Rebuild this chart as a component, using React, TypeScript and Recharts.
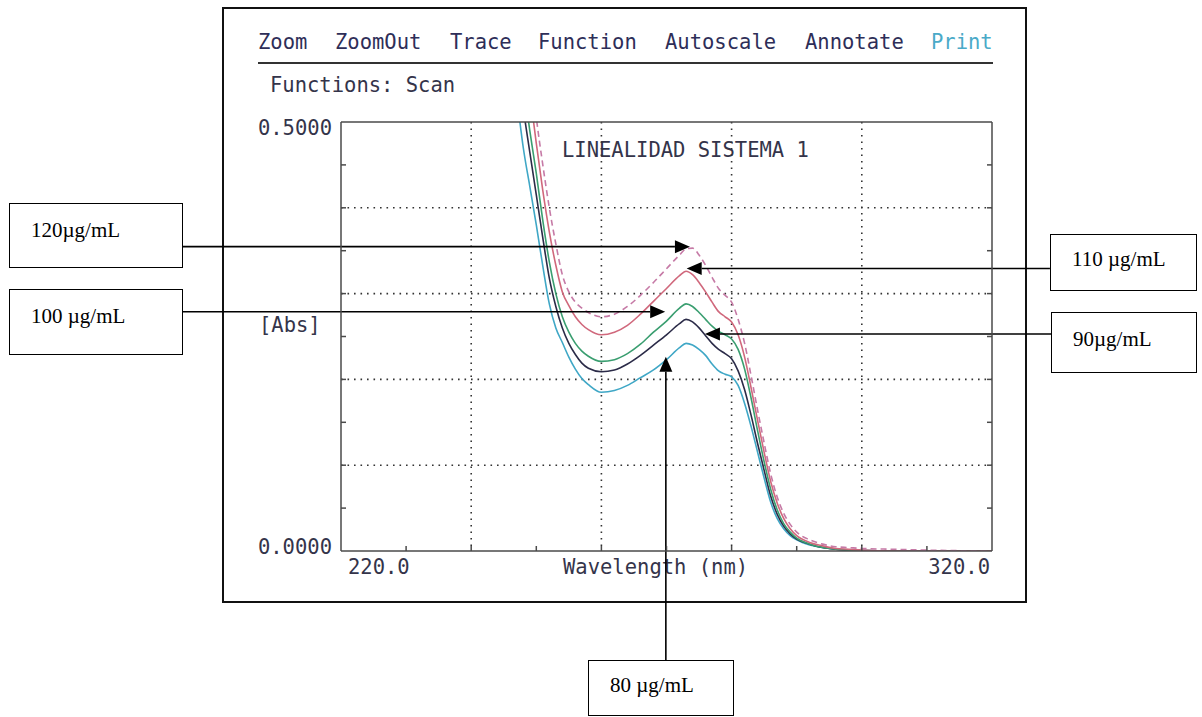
import { CartesianGrid, Line, LineChart, ReferenceLine, XAxis, YAxis } from "recharts";

// wavelength (nm) of each sample
const WAVELENGTH = [
  247, 248, 249, 250, 251, 252, 253, 254, 255, 256, 257, 258, 260, 262, 264, 266, 268, 270, 272,
  273, 274, 275, 276, 277, 278, 279, 280, 281, 282, 283, 284, 285, 286, 287, 288, 289, 290, 292,
  294, 296, 298, 300, 305, 310, 320,
];

// absorbance of each standard
const ABS_80 = [
  0.53, 0.47, 0.425, 0.38, 0.332, 0.288, 0.26, 0.243, 0.226, 0.212, 0.201, 0.194, 0.185, 0.187,
  0.193, 0.202, 0.211, 0.223, 0.237, 0.242, 0.24, 0.235, 0.228, 0.218, 0.21, 0.206, 0.203, 0.193,
  0.172, 0.145, 0.115, 0.085, 0.057, 0.038, 0.026, 0.018, 0.013, 0.007, 0.004, 0.002, 0.001,
  0.0005, 0, 0, 0,
];
const ABS_90 = [
  0.57, 0.515, 0.465, 0.415, 0.365, 0.318, 0.285, 0.26, 0.242, 0.229, 0.219, 0.213, 0.209, 0.211,
  0.218, 0.228, 0.24, 0.252, 0.265, 0.27, 0.267, 0.26, 0.251, 0.242, 0.235, 0.23, 0.224, 0.21,
  0.188, 0.158, 0.125, 0.094, 0.064, 0.043, 0.029, 0.02, 0.014, 0.008, 0.004, 0.002, 0.001,
  0.0005, 0, 0, 0,
];
const ABS_100 = [
  0.6, 0.545, 0.49, 0.44, 0.385, 0.337, 0.3, 0.273, 0.255, 0.242, 0.233, 0.227, 0.221, 0.223,
  0.23, 0.241, 0.255, 0.268, 0.283, 0.288, 0.285, 0.278, 0.27, 0.262, 0.256, 0.252, 0.247, 0.235,
  0.212, 0.178, 0.14, 0.104, 0.072, 0.048, 0.032, 0.022, 0.015, 0.008, 0.004, 0.002, 0.001,
  0.0005, 0, 0, 0,
];
const ABS_110 = [
  0.66, 0.6, 0.535, 0.475, 0.42, 0.372, 0.333, 0.302, 0.286, 0.273, 0.264, 0.258, 0.252, 0.255,
  0.263, 0.276, 0.291, 0.306, 0.321, 0.326, 0.322, 0.313, 0.302, 0.29, 0.279, 0.273, 0.267, 0.252,
  0.226, 0.19, 0.152, 0.115, 0.081, 0.056, 0.038, 0.026, 0.018, 0.01, 0.006, 0.003, 0.002, 0.001,
  0, 0, 0,
];
const ABS_120 = [
  0.71, 0.64, 0.57, 0.505, 0.45, 0.4, 0.358, 0.322, 0.302, 0.29, 0.283, 0.278, 0.273, 0.276,
  0.285, 0.298, 0.313, 0.329, 0.345, 0.352, 0.353, 0.345, 0.333, 0.319, 0.306, 0.298, 0.29, 0.27,
  0.242, 0.204, 0.164, 0.126, 0.09, 0.063, 0.044, 0.031, 0.022, 0.013, 0.008, 0.005, 0.004, 0.003,
  0.002, 0.001, 0,
];

const X_TICKS = [220, 230, 240, 250, 260, 270, 280, 290, 300, 310, 320];
const Y_TICKS = [0, 0.05, 0.1, 0.15, 0.2, 0.25, 0.3, 0.35, 0.4, 0.45, 0.5];
const X_GRID = [240, 260, 280, 300];
const Y_GRID = [0.1, 0.2, 0.3, 0.4];

const MENU = ["Zoom", "ZoomOut", "Trace", "Function", "Autoscale", "Annotate", "Print"];
const MENU_X = [258, 335, 450, 538, 665, 805, 931];

// callouts: label, tail and tip in data units
const CALLOUTS = [
  { label: "120µg/mL", from: [195.7, 0.3547], to: [273.6, 0.3547] },
  { label: "110 µg/mL", from: [328.9, 0.3293], to: [273.1, 0.3293] },
  { label: "100 µg/mL", from: [195.7, 0.2789], to: [269.8, 0.2789] },
  { label: "90µg/mL", from: [329.1, 0.2529], to: [275.9, 0.2529] },
  { label: "80 µg/mL", from: [269.9, -0.127], to: [269.9, 0.2265] },
];
const BOX_POS = [
  { left: 9, top: 203, w: 174, h: 65 },
  { left: 1050, top: 234, w: 147, h: 57 },
  { left: 9, top: 289, w: 174, h: 66 },
  { left: 1051, top: 312, w: 146, h: 61 },
  { left: 588, top: 660, w: 146, h: 56 },
];

const rows = WAVELENGTH.map((wl, i) => ({
  wl,
  a80: ABS_80[i],
  a90: ABS_90[i],
  a100: ABS_100[i],
  a110: ABS_110[i],
  a120: ABS_120[i],
}));

const MONO = "'DejaVu Sans Mono', monospace";
const AXIS = "#4a4a4a";
const INK = "#34344a";

function BottomTick({ x, y, payload }: any) {
  const v = payload.value;
  const edge = v === 220 || v === 320;
  return (
    <g>
      {!edge && <line x1={x} x2={x} y1={y} y2={y - 5} stroke={AXIS} strokeWidth={1.5} />}
      {edge && (
        <text
          x={v === 220 ? x + 7 : x - 2}
          y={y + 16}
          textAnchor={v === 220 ? "start" : "end"}
          dominantBaseline="central"
          fontFamily={MONO}
          fontSize={20.5}
          fill={INK}
        >
          {v.toFixed(1)}
        </text>
      )}
    </g>
  );
}

function TopTick({ x, y, payload }: any) {
  const v = payload.value;
  if (v === 220 || v === 320) return <g />;
  return <line x1={x} x2={x} y1={y} y2={y + 5} stroke={AXIS} strokeWidth={1.5} />;
}

function LeftTick({ x, y, payload }: any) {
  const v = payload.value;
  const edge = v === 0 || v === 0.5;
  return (
    <g>
      {!edge && <line x1={x} x2={x + 5} y1={y} y2={y} stroke={AXIS} strokeWidth={1.5} />}
      {edge && (
        <text
          x={x - 9}
          y={v === 0 ? y - 4 : y + 6}
          textAnchor="end"
          dominantBaseline="central"
          fontFamily={MONO}
          fontSize={20.5}
          fill={INK}
        >
          {v.toFixed(4)}
        </text>
      )}
    </g>
  );
}

function RightTick({ x, y, payload }: any) {
  const v = payload.value;
  if (v === 0 || v === 0.5) return <g />;
  return <line x1={x} x2={x - 5} y1={y} y2={y} stroke={AXIS} strokeWidth={1.5} />;
}

function ArrowShape({ x1, y1, x2, y2 }: any) {
  const dx = x2 - x1;
  const dy = y2 - y1;
  const len = Math.hypot(dx, dy) || 1;
  const ux = dx / len;
  const uy = dy / len;
  const head = 15;
  const half = 6.5;
  const bx = x2 - ux * head;
  const by = y2 - uy * head;
  const pts = `${x2},${y2} ${bx - uy * half},${by + ux * half} ${bx + uy * half},${by - ux * half}`;
  return (
    <g>
      <line x1={x1} y1={y1} x2={bx} y2={by} stroke="#000" strokeWidth={1.6} />
      <polygon points={pts} fill="#000" />
    </g>
  );
}

const txt = (left: number, top: number, s: string, color = INK, size = 20.5) => (
  <div
    style={{
      position: "absolute",
      left,
      top: top - 12,
      height: 24,
      lineHeight: "24px",
      fontFamily: MONO,
      fontSize: size,
      color,
      whiteSpace: "pre",
    }}
  >
    {s}
  </div>
);

export default function App() {
  return (
    <div
      style={{
        position: "fixed",
        left: 0,
        top: 0,
        width: 1202,
        height: 717,
        background: "#fff",
        overflow: "hidden",
      }}
    >
      <div
        style={{
          position: "absolute",
          left: 222,
          top: 7,
          width: 805,
          height: 596,
          border: "2px solid #111",
          boxSizing: "border-box",
        }}
      />
      {MENU.map((m, i) => (
        <div key={m}>{txt(MENU_X[i], 42, m, m === "Print" ? "#4aaac8" : "#2e2e58")}</div>
      ))}
      <div
        style={{ position: "absolute", left: 258, top: 62, width: 735, height: 2, background: "#333" }}
      />
      {txt(270, 85, "Functions: Scan")}
      {txt(562, 150, "LINEALIDAD SISTEMA 1")}
      {txt(259, 325, "[Abs]")}
      {txt(563, 567, "Wavelength (nm)")}

      <div style={{ position: "absolute", left: 0, top: 0 }}>
        <LineChart
          width={1202}
          height={717}
          data={rows}
          margin={{ top: 112, right: 200, bottom: 136, left: 261 }}
        >
          <CartesianGrid
            horizontalValues={Y_GRID}
            verticalValues={X_GRID}
            stroke="#333"
            strokeWidth={1.6}
            strokeDasharray="1.6 4.9"
          />
          <XAxis
            dataKey="wl"
            type="number"
            domain={[220, 320]}
            ticks={X_TICKS}
            interval={0}
            allowDataOverflow
            height={30}
            tickSize={0}
            tickMargin={0}
            tickLine={false}
            axisLine={{ stroke: AXIS, strokeWidth: 1.5 }}
            tick={BottomTick}
          />
          <XAxis
            xAxisId="top"
            orientation="top"
            type="number"
            domain={[220, 320]}
            ticks={X_TICKS}
            interval={0}
            allowDataOverflow
            height={10}
            tickSize={0}
            tickMargin={0}
            tickLine={false}
            axisLine={{ stroke: AXIS, strokeWidth: 1.5 }}
            tick={TopTick}
          />
          <YAxis
            type="number"
            domain={[0, 0.5]}
            ticks={Y_TICKS}
            interval={0}
            allowDataOverflow
            width={80}
            tickSize={0}
            tickMargin={0}
            tickLine={false}
            axisLine={{ stroke: AXIS, strokeWidth: 1.5 }}
            tick={LeftTick}
          />
          <YAxis
            yAxisId="right"
            orientation="right"
            type="number"
            domain={[0, 0.5]}
            ticks={Y_TICKS}
            interval={0}
            allowDataOverflow
            width={10}
            tickSize={0}
            tickMargin={0}
            tickLine={false}
            axisLine={{ stroke: AXIS, strokeWidth: 1.5 }}
            tick={RightTick}
          />
          <Line type="monotone" dataKey="a80" stroke="#3fa7c6" strokeWidth={1.6} dot={false} isAnimationActive={false} />
          <Line type="monotone" dataKey="a90" stroke="#2b2b48" strokeWidth={1.6} dot={false} isAnimationActive={false} />
          <Line type="monotone" dataKey="a100" stroke="#3a9e70" strokeWidth={1.6} dot={false} isAnimationActive={false} />
          <Line type="monotone" dataKey="a110" stroke="#d0687c" strokeWidth={1.6} dot={false} isAnimationActive={false} />
          <Line
            type="monotone"
            dataKey="a120"
            stroke="#c67aa6"
            strokeWidth={1.6}
            strokeDasharray="6 4"
            dot={false}
            isAnimationActive={false}
          />
          {CALLOUTS.map((c) => (
            <ReferenceLine
              key={c.label}
              segment={[
                { x: c.from[0], y: c.from[1] },
                { x: c.to[0], y: c.to[1] },
              ]}
              ifOverflow="visible"
              shape={ArrowShape}
            />
          ))}
        </LineChart>
      </div>

      {CALLOUTS.map((c, i) => {
        const b = BOX_POS[i];
        return (
          <div
            key={c.label}
            style={{
              position: "absolute",
              left: b.left,
              top: b.top,
              width: b.w,
              height: b.h,
              border: "1.5px solid #000",
              boxSizing: "border-box",
              background: "#fff",
              fontFamily: "'Liberation Serif', 'Times New Roman', serif",
              fontSize: 21,
              color: "#000",
              paddingLeft: 21,
              paddingTop: b.h > 60 ? 14 : 12,
              lineHeight: "24px",
            }}
          >
            {c.label}
          </div>
        );
      })}
    </div>
  );
}
